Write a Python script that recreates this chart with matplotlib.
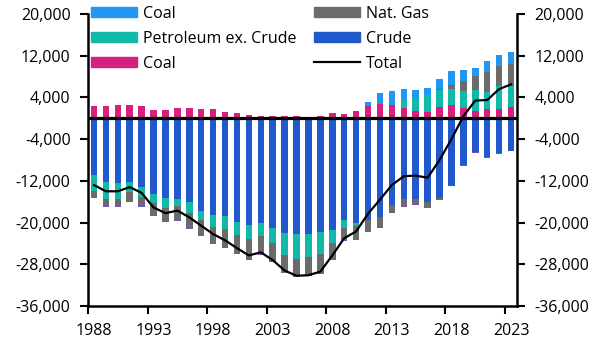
import matplotlib
matplotlib.use("Agg")
import matplotlib.pyplot as plt
import numpy as np
from matplotlib.ticker import FuncFormatter, FixedLocator
from matplotlib.patches import Patch
from matplotlib.lines import Line2D

plt.rcParams['font.family'] = ['Open Sans', 'DejaVu Sans']

years = list(range(1988, 2024))

# positive components (thousands)
coal_pos = [2.44, 2.44, 2.63, 2.63, 2.44, 1.67, 1.67, 2.05, 2.05, 1.86, 1.86, 1.29,
            1.10, 0.71, 0.52, 0.52, 0.52, 0.52, 0.0, 0.52, 1.10, 0.90, 1.48, 2.44,
            2.80, 2.63, 2.05, 1.48, 1.29, 2.25, 2.63, 2.05, 1.48, 1.86, 1.86, 2.25]
petroleum_pos = [0]*26 + [1.55, 2.50, 3.10, 3.25, 3.07, 3.25, 4.02, 3.26, 4.42, 4.03]
gas_pos = [0]*29 + [0.20, 0.77, 1.94, 2.70, 3.85, 3.82, 4.22]
coal_top_pos = [0]*23 + [0.76, 2.13, 2.67, 2.10, 1.53, 1.34, 1.92, 2.69, 2.11, 1.53, 1.93, 2.10, 2.30]

# negative components (thousands)
crude_neg = [-10.8, -12.3, -12.5, -12.3, -13.1, -14.5, -15.2, -15.5, -16.1, -17.7, -18.6, -18.7,
             -19.8, -20.4, -20.0, -21.1, -22.0, -22.1, -22.1, -21.9, -21.4, -19.6, -20.0, -19.6,
             -19.0, -16.7, -15.4, -15.4, -16.1, -15.3, -12.9, -9.0, -6.45, -7.5, -6.65, -6.2]
petroleum_neg = [-3.2, -3.1, -2.9, -1.9, -1.9, -1.7, -2.1, -1.4, -2.1, -1.9, -2.2, -2.5,
                 -2.5, -2.8, -2.6, -2.9, -4.2, -4.8, -4.5, -4.1, -2.6, -1.4, -0.6] + [0]*13
gas_neg = [-1.2, -1.4, -1.4, -1.7, -1.9, -2.4, -2.4, -2.7, -2.9, -2.9, -3.2, -3.5,
           -3.6, -3.8, -3.4, -3.4, -3.4, -3.4, -3.5, -3.7, -3.0, -2.4, -2.6, -2.0,
           -1.8, -1.4, -1.4, -1.1, -0.9, -0.15, 0, 0, 0, 0, 0, 0]
coal_neg = [-0.15]*36

total = [-12.8, -14.0, -14.0, -13.2, -14.3, -17.1, -18.2, -17.7, -19.0, -20.6, -22.2, -23.4,
         -24.9, -26.3, -25.7, -27.2, -29.2, -30.2, -30.1, -29.4, -26.3, -23.0, -21.7, -18.3,
         -15.6, -12.8, -11.1, -11.0, -11.4, -8.0, -4.0, 0.4, 3.4, 3.5, 5.6, 6.5]

tick_years = [1988, 1993, 1998, 2003, 2008, 2013, 2018, 2023]

C_LB = '#2196f3'
C_TEAL = '#12b8a8'
C_PINK = '#d6207e'
C_GREY = '#6b6b6b'
C_BLUE = '#2159cc'

fig = plt.figure(figsize=(6.07, 3.55), dpi=100)
ax = fig.add_axes([88/607, 1-306/355, (517-88)/607, (306-14)/355])

x = np.arange(len(years))
w = 0.55
k = 1000.0
cp = np.array(coal_pos)*k
pp = np.array(petroleum_pos)*k
gp = np.array(gas_pos)*k
lp = np.array(coal_top_pos)*k
cn = np.array(crude_neg)*k
pn = np.array(petroleum_neg)*k
gn = np.array(gas_neg)*k
con = np.array(coal_neg)*k

ax.bar(x, cp, w, color=C_PINK, zorder=2)
ax.bar(x, pp, w, bottom=cp, color=C_TEAL, zorder=2)
ax.bar(x, gp, w, bottom=cp+pp, color=C_GREY, zorder=2)
ax.bar(x, lp, w, bottom=cp+pp+gp, color=C_LB, zorder=2)
ax.bar(x, cn, w, color=C_BLUE, zorder=2)
ax.bar(x, pn, w, bottom=cn, color=C_TEAL, zorder=2)
ax.bar(x, gn, w, bottom=cn+pn, color=C_GREY, zorder=2)
ax.bar(x, con, w, bottom=cn+pn+gn, color='#7a4fc0', zorder=2)

ax.axhline(0, color='black', lw=2.3, zorder=3)
ax.plot(x, np.array(total)*k, color='black', lw=1.6, zorder=4)

ax.set_xlim(-0.5, len(years)-0.5)
ax.set_ylim(-36000, 20000)
ax.set_yticks(np.arange(-36000, 20001, 8000))
ax.yaxis.set_major_formatter(FuncFormatter(lambda v, p: f"{v:,.0f}"))

ax.set_xticks([years.index(y) for y in tick_years])
ax.set_xticklabels([str(y) for y in tick_years])
ax.xaxis.set_minor_locator(FixedLocator([years.index(y)-0.5 for y in tick_years]))
ax.tick_params(axis='x', which='major', length=0, pad=12, labelsize=11.5)
ax.tick_params(axis='x', which='minor', length=5.5, width=1.5, direction='out')
ax.tick_params(axis='y', which='major', left=True, right=True, labelleft=True, labelright=True,
               length=5.5, width=1.5, pad=7, labelsize=11.5)

for s in ['left', 'right', 'bottom']:
    ax.spines[s].set_linewidth(1.8)
    ax.spines[s].set_color('black')
ax.spines['top'].set_visible(False)

handles = [Patch(color=C_LB), Patch(color=C_TEAL), Patch(color=C_PINK),
           Patch(color=C_GREY), Patch(color=C_BLUE), Line2D([], [], color='black', lw=1.6)]
labels = ['Coal', 'Petroleum ex. Crude', 'Coal', 'Nat. Gas', 'Crude', 'Total']
fig.legend(handles, labels, ncol=2, loc='upper left', bbox_to_anchor=(91/607, 1-6/355),
           frameon=False, fontsize=11.5, handlelength=2.9, handleheight=0.6,
           handletextpad=0.35, columnspacing=1.1, labelspacing=0.55, borderpad=0,
           borderaxespad=0)

fig.savefig('out.png', dpi=100)
